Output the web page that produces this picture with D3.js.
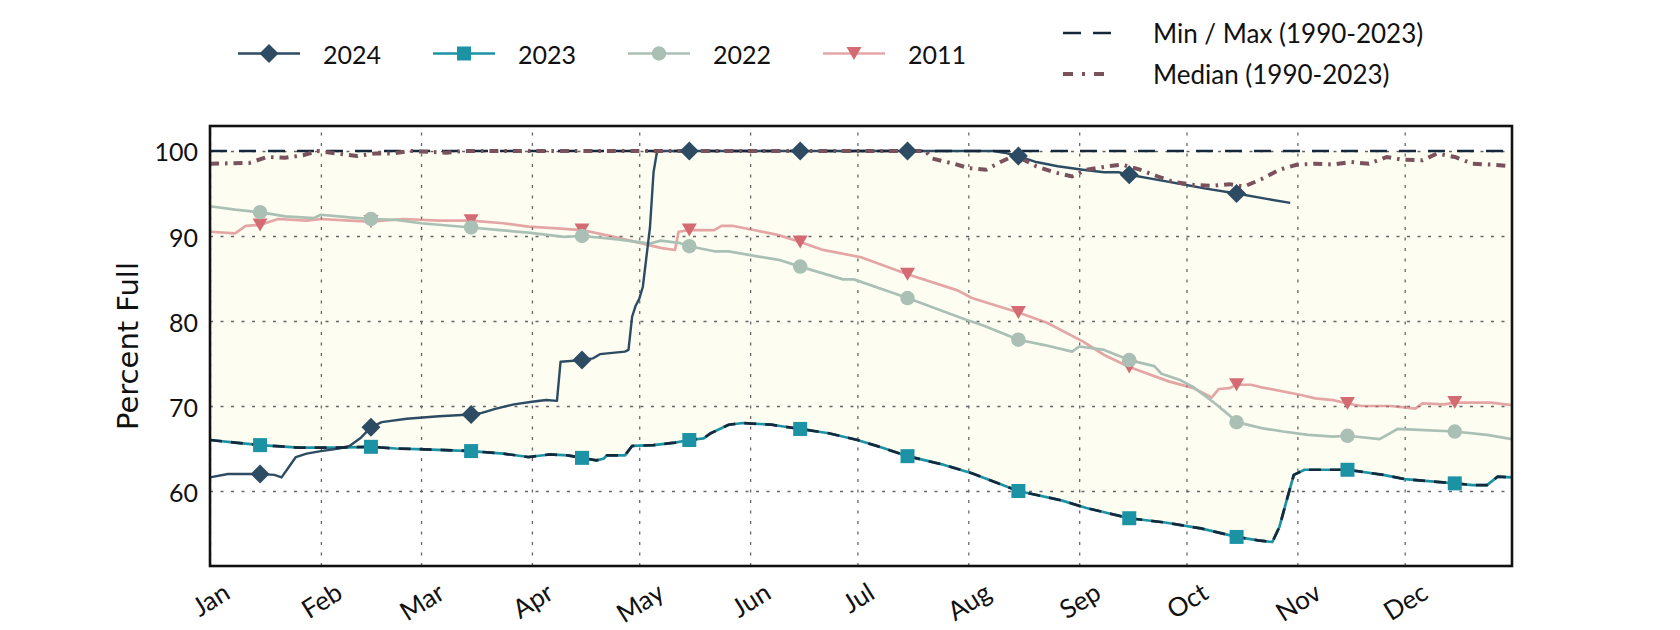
<!DOCTYPE html>
<html>
<head>
<meta charset="utf-8">
<script src="https://cdn.jsdelivr.net/npm/d3@7"></script>
<style>
  html, body { margin: 0; padding: 0; background: #fff; }
  svg { display: block; }
</style>
</head>
<body>
<div id="chart"></div>
<script>
const WIDTH = 1680, HEIGHT = 630
const MARGIN = { top: 126, right: 168, bottom: 64, left: 210 }
const FONT = 'Lato, "Open Sans", sans-serif'

// ── data (day of year, percent full) ─────────────────────────────
const yTicks = [60, 70, 80, 90, 100]
const markerDays = [14, 45, 73, 104, 134, 165, 195, 226, 257, 287, 318, 348]

const days2024 = [0, 5, 14, 18, 20, 22, 24, 27, 31, 36, 39, 42, 45, 48, 55, 64, 73, 76, 80, 85, 90, 94, 97, 98, 104, 107, 109, 116, 117, 118, 119, 120, 121, 122, 123, 124, 125, 134, 165, 195, 219, 222, 226, 231, 237, 244, 250, 254, 257, 265, 273, 278, 287, 295, 302]
const pct2024 = [61.6, 62.0, 62.0, 61.9, 61.6, 62.8, 64.0, 64.4, 64.7, 65.0, 65.3, 66.2, 67.5, 68.1, 68.5, 68.8, 69.0, 69.2, 69.7, 70.2, 70.5, 70.7, 70.6, 75.2, 75.4, 75.6, 76.1, 76.4, 76.6, 80.5, 81.8, 82.6, 84.0, 87.5, 91.0, 97.5, 100, 100, 100, 100, 100, 99.8, 99.4, 98.7, 98.2, 97.8, 97.5, 97.5, 97.2, 96.6, 96.0, 95.6, 95.0, 94.4, 93.9]

const days2023 = [0, 7, 14, 25, 35, 45, 52, 60, 73, 82, 89, 95, 100, 104, 108, 110, 111, 116, 118, 124, 130, 134, 138, 140, 145, 149, 157, 165, 173, 181, 188, 195, 205, 213, 226, 238, 245, 257, 267, 277, 287, 293, 297, 299, 301, 303, 306, 311, 318, 328, 334, 348, 353, 357, 360, 364]
const pct2023 = [66.0, 65.7, 65.4, 65.1, 65.1, 65.2, 65.0, 64.9, 64.7, 64.4, 64.0, 64.3, 64.2, 63.9, 63.6, 63.8, 64.2, 64.2, 65.3, 65.4, 65.7, 66.0, 66.2, 66.8, 67.8, 68.0, 67.8, 67.3, 66.8, 66.0, 65.1, 64.1, 63.1, 62.1, 60.0, 58.9, 58.0, 56.8, 56.3, 55.6, 54.6, 54.2, 54.0, 55.8, 58.9, 61.9, 62.5, 62.5, 62.5, 61.9, 61.4, 60.9, 60.7, 60.7, 61.7, 61.6]

const days2022 = [0, 7, 14, 21, 29, 31, 39, 45, 52, 59, 73, 81, 89, 99, 104, 114, 123, 126, 131, 134, 141, 145, 153, 159, 165, 177, 180, 191, 195, 211, 216, 226, 233, 241, 243, 250, 257, 264, 266, 271, 275, 281, 285, 287, 294, 300, 307, 314, 318, 327, 332, 338, 348, 357, 364]
const pct2022 = [93.5, 93.1, 92.8, 92.3, 92.1, 92.5, 92.2, 92.0, 91.9, 91.5, 91.0, 90.7, 90.4, 89.9, 90.0, 89.6, 89.1, 89.45, 89.2, 88.8, 88.2, 88.2, 87.6, 87.2, 86.4, 84.9, 84.9, 83.3, 82.7, 80.2, 79.5, 77.8, 77.2, 76.4, 77.0, 76.6, 75.4, 74.7, 73.8, 73.1, 72.2, 70.3, 68.9, 68.1, 67.4, 67.0, 66.6, 66.4, 66.5, 66.1, 67.3, 67.2, 67.0, 66.6, 66.1]

const days2011 = [0, 7, 10, 14, 19, 27, 31, 39, 45, 54, 64, 73, 82, 89, 97, 104, 113, 121, 126, 130, 131, 134, 141, 143, 146, 152, 159, 165, 171, 182, 195, 209, 213, 226, 234, 244, 250, 257, 268, 275, 280, 282, 285, 287, 291, 294, 305, 309, 314, 318, 322, 330, 334, 337, 339, 345, 348, 354, 358, 364]
const pct2011 = [90.5, 90.3, 91.2, 91.3, 92.0, 91.8, 92.0, 91.8, 91.7, 92.0, 91.8, 91.8, 91.5, 91.1, 90.9, 90.7, 89.9, 89.1, 88.6, 88.35, 90.5, 90.7, 90.7, 91.2, 91.2, 90.7, 90.1, 89.3, 88.4, 87.5, 85.5, 83.6, 82.7, 81.0, 79.8, 77.6, 76.0, 74.6, 72.9, 72.1, 71.0, 72.0, 72.1, 72.5, 72.5, 72.2, 71.3, 70.9, 70.7, 70.3, 70.0, 70.0, 69.85, 69.7, 70.3, 70.2, 70.4, 70.4, 70.4, 70.1]

const daysMedian = [0, 11, 16, 21, 26, 30, 41, 46, 51, 56, 66, 71, 200, 202, 208, 212, 217, 221, 225, 231, 236, 241, 245, 251, 255, 260, 265, 269, 275, 280, 285, 289, 294, 299, 304, 309, 314, 319, 324, 329, 333, 339, 343, 348, 353, 358, 364]
const pctMedian = [98.5, 98.6, 99.3, 99.2, 99.5, 100, 99.4, 99.7, 99.7, 100, 99.8, 100, 100, 99.1, 98.5, 98.0, 97.8, 98.7, 99.5, 98.2, 97.5, 97.0, 97.8, 98.2, 98.4, 97.8, 97.0, 96.4, 96.0, 95.9, 96.1, 95.8, 96.7, 97.8, 98.4, 98.5, 98.4, 98.7, 98.5, 99.3, 99.0, 98.9, 99.7, 99.3, 98.5, 98.4, 98.2]

// the 1990-2023 minimum follows 2023 all year
const daysMin = days2023
const pctMin = pct2023
const daysMax = [0, 364]
const pctMax = [100, 100]

const zip = (days, vals) => days.map((day, i) => ({ day, value: vals[i] }))

const years = [
  { label: '2011', data: zip(days2011, pct2011), color: '#d46a72', lineOpacity: 0.6, marker: 'triangle' },
  { label: '2022', data: zip(days2022, pct2022), color: '#abc0b5', lineOpacity: 1, marker: 'circle' },
  { label: '2023', data: zip(days2023, pct2023), color: '#1c93a5', lineOpacity: 1, marker: 'square' },
  { label: '2024', data: zip(days2024, pct2024), color: '#2d4b63', lineOpacity: 1, marker: 'diamond' },
]
const MINMAX_COLOR = '#16283b'
const MEDIAN_COLOR = '#7a525c'

// ── setup ────────────────────────────────────────────────────────
const W = WIDTH - MARGIN.left - MARGIN.right
const H = HEIGHT - MARGIN.top - MARGIN.bottom
const base = new Date(2023, 0, 1)
const dateOf = d => d3.timeDay.offset(base, d)

const x = d3.scaleTime().domain([base, new Date(2023, 11, 31)]).range([0, W])
const y = d3.scaleLinear().domain([51.18, 102.94]).range([H, 0])

const svg = d3.select('#chart').append('svg')
  .attr('width', WIDTH)
  .attr('height', HEIGHT)

const g = svg.append('g').attr('transform', `translate(${MARGIN.left},${MARGIN.top})`)

const line = d3.line().x(d => x(dateOf(d.day))).y(d => y(d.value))

function markerPath(type) {
  if (type === 'triangle') return 'M-7.5,-6.5L7.5,-6.5L0,6.5Z'
  if (type === 'circle') return d3.symbol(d3.symbolCircle, 165)()
  if (type === 'square') return d3.symbol(d3.symbolSquare, 196)()
  return d3.symbol(d3.symbolSquare, 180)()
}
const markerRotate = type => type === 'diamond' ? ' rotate(45)' : ''

// ── min/max band ─────────────────────────────────────────────────
const band = zip(daysMin, pctMin).concat(zip(daysMax, pctMax).reverse())
g.append('path')
  .attr('d', line(band) + 'Z')
  .attr('fill', '#fdfdf2')

// ── grid ─────────────────────────────────────────────────────────
const gridY = g.append('g')
  .call(d3.axisLeft(y).tickValues(yTicks).tickSize(-W).tickFormat(''))
const gridX = g.append('g')
  .attr('transform', `translate(0,${H})`)
  .call(d3.axisBottom(x).ticks(d3.timeMonth.every(1)).tickSize(-H).tickFormat(''))
for (const grid of [gridY, gridX]) {
  grid.select('.domain').remove()
  grid.selectAll('line')
    .attr('stroke', '#666')
    .attr('stroke-width', 1.3)
    .attr('stroke-dasharray', '3,7.5')
}

// ── year lines ───────────────────────────────────────────────────
years.forEach(s => {
  g.append('path')
    .attr('d', line(s.data))
    .attr('fill', 'none')
    .attr('stroke', s.color)
    .attr('stroke-opacity', s.lineOpacity)
    .attr('stroke-width', s.label === '2024' ? 2.4 : 2.7)
    .attr('stroke-linejoin', 'round')
})

// ── min / max / median ───────────────────────────────────────────
g.append('path')
  .attr('d', line(zip(daysMin, pctMin)))
  .attr('fill', 'none')
  .attr('stroke', MINMAX_COLOR)
  .attr('stroke-width', 2.7)
  .attr('stroke-dasharray', '12,9')
g.append('path')
  .attr('d', line(zip(daysMax, pctMax)))
  .attr('fill', 'none')
  .attr('stroke', MINMAX_COLOR)
  .attr('stroke-width', 2.7)
  .attr('stroke-dasharray', '17,12')
g.append('path')
  .attr('d', line(zip(daysMedian, pctMedian)))
  .attr('fill', 'none')
  .attr('stroke', MEDIAN_COLOR)
  .attr('stroke-width', 4)
  .attr('stroke-dasharray', '9,6,2.5,6')

// ── markers ──────────────────────────────────────────────────────
years.forEach(s => {
  g.append('g').selectAll('path')
    .data(s.data.filter(d => markerDays.includes(d.day)))
    .enter().append('path')
    .attr('d', markerPath(s.marker))
    .attr('transform', d => `translate(${x(dateOf(d.day))},${y(d.value)})${markerRotate(s.marker)}`)
    .attr('fill', s.color)
})

// ── axes ─────────────────────────────────────────────────────────
const yAxis = g.append('g')
  .call(d3.axisLeft(y).tickValues(yTicks).tickSize(0).tickPadding(12))
yAxis.select('.domain').remove()
yAxis.attr('font-family', FONT).attr('font-size', 25)
yAxis.selectAll('text').attr('fill', '#111').attr('dy', null).attr('dominant-baseline', 'central')

const xAxis = g.append('g')
  .attr('transform', `translate(0,${H})`)
  .call(d3.axisBottom(x).ticks(d3.timeMonth.every(1)).tickFormat(d3.timeFormat('%b')).tickSize(0))
xAxis.select('.domain').remove()
xAxis.attr('font-family', FONT).attr('font-size', 26)
xAxis.selectAll('text')
  .attr('fill', '#111')
  .attr('y', null)
  .attr('dy', null)
  .attr('text-anchor', 'middle')
  .attr('dominant-baseline', 'central')
  .attr('transform', function () {
    const w = this.getComputedTextLength()
    const cy = 11 + (w * 0.53 + 28 * 0.85) / 2
    return `translate(0,${cy}) rotate(-32)`
  })

svg.append('text')
  .attr('transform', `translate(128,${MARGIN.top + H / 2}) rotate(-90)`)
  .attr('text-anchor', 'middle')
  .attr('dominant-baseline', 'central')
  .attr('font-family', '"DejaVu Sans", sans-serif')
  .attr('font-size', 29)
  .attr('fill', '#111')
  .text('Percent Full')

// frame
g.append('rect')
  .attr('width', W)
  .attr('height', H)
  .attr('fill', 'none')
  .attr('stroke', '#111')
  .attr('stroke-width', 2.6)

// ── legend ───────────────────────────────────────────────────────
const legend = svg.append('g').attr('font-family', FONT)
const legendX = { '2024': 238, '2023': 433, '2022': 628, '2011': 823 }
years.slice().reverse().forEach(s => {
  const lx = legendX[s.label], ly = 53.5
  legend.append('line')
    .attr('x1', lx).attr('x2', lx + 62).attr('y1', ly).attr('y2', ly)
    .attr('stroke', s.color)
    .attr('stroke-opacity', s.lineOpacity)
    .attr('stroke-width', 2.7)
  legend.append('path')
    .attr('d', markerPath(s.marker))
    .attr('transform', `translate(${lx + 31},${ly})${markerRotate(s.marker)}`)
    .attr('fill', s.color)
  legend.append('text')
    .attr('x', lx + 85).attr('y', ly)
    .attr('dominant-baseline', 'central')
    .attr('font-size', 25)
    .attr('fill', '#111')
    .text(s.label)
})

const refs = [
  { label: 'Min / Max (1990-2023)', y: 33, color: MINMAX_COLOR, width: 2.7, dash: '18,12' },
  { label: 'Median (1990-2023)', y: 74, color: MEDIAN_COLOR, width: 4, dash: '10,9,3,9' },
]
refs.forEach(r => {
  legend.append('line')
    .attr('x1', 1063).attr('x2', 1111).attr('y1', r.y).attr('y2', r.y)
    .attr('stroke', r.color)
    .attr('stroke-width', r.width)
    .attr('stroke-dasharray', r.dash)
  legend.append('text')
    .attr('x', 1153).attr('y', r.y)
    .attr('dominant-baseline', 'central')
    .attr('font-size', 26)
    .attr('fill', '#111')
    .text(r.label)
})
</script>
</body>
</html>
